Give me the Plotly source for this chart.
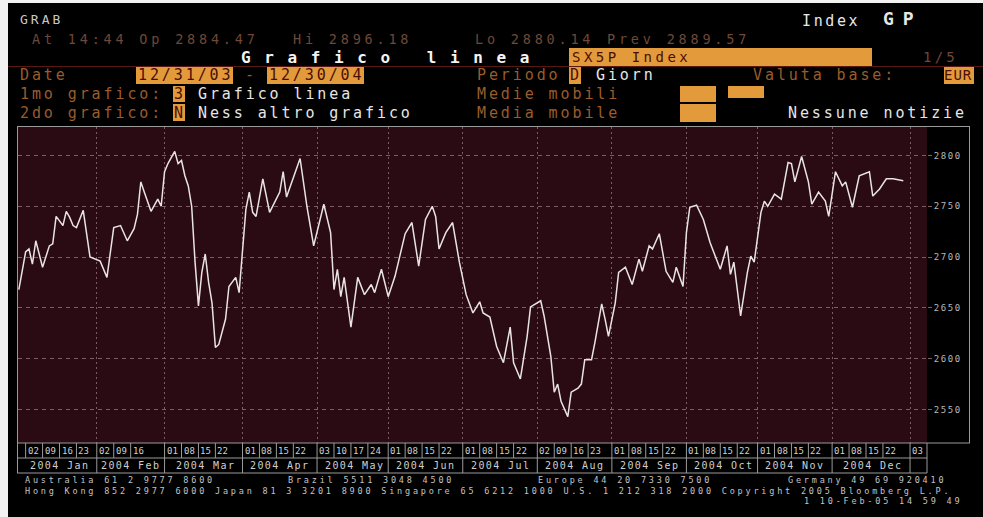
import plotly.graph_objects as go
import pandas as pd

# ---------------- data ----------------
dates = [
    "2003-12-31", "2004-01-02", "2004-01-05", "2004-01-06", "2004-01-07", "2004-01-09",
    "2004-01-13", "2004-01-14", "2004-01-15", "2004-01-19", "2004-01-20", "2004-01-21",
    "2004-01-22", "2004-01-23", "2004-01-27", "2004-01-29",
    "2004-02-03", "2004-02-05", "2004-02-09", "2004-02-11", "2004-02-13", "2004-02-17",
    "2004-02-18", "2004-02-19", "2004-02-20", "2004-02-24", "2004-02-26", "2004-02-27",
    "2004-03-01", "2004-03-02", "2004-03-04", "2004-03-05", "2004-03-08", "2004-03-09",
    "2004-03-10", "2004-03-11", "2004-03-12", "2004-03-15", "2004-03-16", "2004-03-17",
    "2004-03-18", "2004-03-19", "2004-03-22", "2004-03-23", "2004-03-25", "2004-03-26",
    "2004-03-30", "2004-03-31",
    "2004-04-02", "2004-04-05", "2004-04-06", "2004-04-07", "2004-04-09", "2004-04-13",
    "2004-04-16", "2004-04-19", "2004-04-20", "2004-04-26", "2004-04-28", "2004-04-30",
    "2004-05-05", "2004-05-07", "2004-05-10", "2004-05-11", "2004-05-12", "2004-05-13",
    "2004-05-17", "2004-05-19", "2004-05-21", "2004-05-25", "2004-05-26", "2004-05-28",
    "2004-06-01", "2004-06-03", "2004-06-08", "2004-06-10", "2004-06-14", "2004-06-16",
    "2004-06-18", "2004-06-21", "2004-06-22", "2004-06-24", "2004-06-28", "2004-06-30",
    "2004-07-02", "2004-07-06", "2004-07-08", "2004-07-09", "2004-07-13", "2004-07-15",
    "2004-07-19", "2004-07-21", "2004-07-22", "2004-07-26", "2004-07-28", "2004-07-29",
    "2004-08-03", "2004-08-04", "2004-08-06", "2004-08-09", "2004-08-10", "2004-08-11",
    "2004-08-13", "2004-08-16", "2004-08-18", "2004-08-19", "2004-08-20", "2004-08-24",
    "2004-08-25", "2004-08-27", "2004-08-30", "2004-08-31",
    "2004-09-02", "2004-09-03", "2004-09-07", "2004-09-09", "2004-09-13", "2004-09-14",
    "2004-09-16", "2004-09-17", "2004-09-21", "2004-09-23", "2004-09-27", "2004-09-28",
    "2004-09-30",
    "2004-10-01", "2004-10-04", "2004-10-06", "2004-10-08", "2004-10-12", "2004-10-15",
    "2004-10-19", "2004-10-20", "2004-10-21", "2004-10-25", "2004-10-27", "2004-10-28",
    "2004-10-29",
    "2004-11-02", "2004-11-03", "2004-11-04", "2004-11-08", "2004-11-10", "2004-11-12",
    "2004-11-15", "2004-11-16", "2004-11-18", "2004-11-22", "2004-11-23", "2004-11-25",
    "2004-11-29", "2004-11-30",
    "2004-12-02", "2004-12-06", "2004-12-07", "2004-12-09", "2004-12-13", "2004-12-16",
    "2004-12-17", "2004-12-21", "2004-12-23", "2004-12-27", "2004-12-30",
]
values = [
    2668, 2705, 2708, 2693, 2716, 2690,
    2711, 2713, 2740, 2731, 2745, 2739,
    2731, 2729, 2746, 2700,
    2696, 2680, 2729, 2731, 2716, 2728,
    2742, 2774, 2764, 2745, 2757, 2750,
    2784, 2792, 2804, 2792, 2795, 2780,
    2770, 2750, 2695, 2652, 2685, 2703,
    2675, 2655, 2611, 2614, 2639, 2671,
    2680, 2665,
    2747, 2764, 2744, 2740, 2777, 2744,
    2764, 2784, 2759, 2797, 2750, 2711,
    2752, 2724, 2668, 2688, 2661, 2680,
    2631, 2680, 2663, 2673, 2665, 2688,
    2661, 2681, 2723, 2734, 2691, 2737,
    2750, 2740, 2708, 2724, 2734, 2695,
    2663, 2645, 2656, 2645, 2641, 2612,
    2596, 2631, 2596, 2580, 2622, 2651,
    2657, 2642, 2602, 2567, 2575, 2558,
    2543, 2567, 2571, 2575, 2599, 2599,
    2616, 2654, 2639, 2622,
    2655, 2685, 2690, 2673, 2698, 2686,
    2711, 2708, 2723, 2686, 2675, 2690,
    2671,
    2724, 2749, 2751, 2737, 2714, 2688,
    2711, 2683, 2695, 2642, 2685, 2701,
    2695,
    2744, 2755, 2750, 2762, 2757, 2793,
    2792, 2774, 2799, 2774, 2752, 2764,
    2755, 2740,
    2784, 2770, 2774, 2749, 2780, 2784,
    2760, 2767, 2777, 2777, 2775,
]

day_ticks = [
    "2004-01-02", "2004-01-09", "2004-01-16", "2004-01-23",
    "2004-02-02", "2004-02-09", "2004-02-16",
    "2004-03-01", "2004-03-08", "2004-03-15", "2004-03-22",
    "2004-04-01", "2004-04-08", "2004-04-15", "2004-04-22",
    "2004-05-03", "2004-05-10", "2004-05-17", "2004-05-24",
    "2004-06-01", "2004-06-08", "2004-06-15", "2004-06-22",
    "2004-07-01", "2004-07-08", "2004-07-15", "2004-07-22",
    "2004-08-02", "2004-08-09", "2004-08-16", "2004-08-23",
    "2004-09-01", "2004-09-08", "2004-09-15", "2004-09-22",
    "2004-10-01", "2004-10-08", "2004-10-15", "2004-10-22",
    "2004-11-01", "2004-11-08", "2004-11-15", "2004-11-22",
    "2004-12-01", "2004-12-08", "2004-12-15", "2004-12-22",
    "2005-01-03",
]
month_starts = [
    "2004-02-02", "2004-03-01", "2004-04-01", "2004-05-03", "2004-06-01", "2004-07-01",
    "2004-08-02", "2004-09-01", "2004-10-01", "2004-11-01", "2004-12-01", "2005-01-03",
]
month_labels = ["2004 Jan", "2004 Feb", "2004 Mar", "2004 Apr", "2004 May", "2004 Jun",
                "2004 Jul", "2004 Aug", "2004 Sep", "2004 Oct", "2004 Nov", "2004 Dec"]
y_ticks = [2550, 2600, 2650, 2700, 2750, 2800]

X_START, X_END = "2003-12-30 18:00", "2005-01-10"
Y_MIN, Y_MAX = 2517, 2828

# ---------------- layout helpers ----------------
W, H = 983, 517
MONO = "DejaVu Sans Mono"
WHITE = "#e6e6e6"
DIM = "#9a5c2c"
DIM2 = "#6e4838"
ORANGE = "#e39a3b"
DARK = "#4a0e05"
GRID = "#7d5c62"

RS, RSP = 15, 2.9  # header row font size / letter spacing (~11.9 px per char)


def px(x):
    return x / W


def py(y):
    return 1 - y / H


annotations = []
shapes = []


def ann(text, x, y, color=WHITE, size=RS, spacing=RSP, bold=False, anchor="left", family=MONO):
    t = text
    if bold:
        t = "<b>" + t + "</b>"
    if spacing:
        t = '<span style="letter-spacing:%spx">%s</span>' % (spacing, t)
    annotations.append(dict(text=t, x=px(x), y=py(y), xref="paper", yref="paper",
                            xanchor=anchor, yanchor="middle", showarrow=False,
                            borderpad=0,
                            font=dict(family=family, size=size, color=color)))


def rect(x0, y0, x1, y1, fill=ORANGE):
    shapes.append(dict(type="rect", xref="paper", yref="paper",
                       x0=px(x0), x1=px(x1), y0=py(y1), y1=py(y0),
                       fillcolor=fill, line=dict(width=0)))


def hline(x0, x1, y, color="#8c8c8c", w=1):
    shapes.append(dict(type="line", xref="paper", yref="paper", x0=px(x0), x1=px(x1),
                       y0=py(y), y1=py(y), line=dict(color=color, width=w)))


def vline_px(x, y0, y1, color="#8c8c8c", w=1):
    shapes.append(dict(type="line", xref="paper", yref="paper", x0=px(x), x1=px(x),
                       y0=py(y0), y1=py(y1), line=dict(color=color, width=w)))


# page edge (scanned white margin)
shapes.append(dict(type="rect", xref="paper", yref="paper", x0=0, x1=px(8), y0=0, y1=1,
                   fillcolor="#f2f2f2", line=dict(width=0), layer="below"))
shapes.append(dict(type="rect", xref="paper", yref="paper", x0=0, x1=1, y0=py(3), y1=1,
                   fillcolor="#f2f2f2", line=dict(width=0), layer="below"))

# ---------------- header ----------------
ann("GRAB", 19, 19, color="#c8c8c8", size=13, spacing=3.0)
ann("Index", 801, 21, color=WHITE, size=15, spacing=2.6)
ann("GP", 882, 18, color=WHITE, size=18, spacing=9, bold=True)

R2 = dict(color=DIM2, size=13.5, spacing=3.8)
ann("At 14:44 Op 2884.47", 31, 39.5, **R2)
ann("Hi 2896.18", 292, 39.5, **R2)
ann("Lo 2880.14", 474, 39.5, **R2)
ann("Prev 2889.57", 606, 39.5, **R2)

ann("Grafico linea", 240, 57, color="#f4f4f4", size=16, spacing=13.6, bold=True)
rect(569, 48, 872, 66)
ann("SX5P Index", 571, 57, color=DARK, size=14, spacing=3.5)
ann("1/5", 922, 57, color=DIM2, size=14, spacing=3.2)
hline(8, 983, 66.5, color="#5a1812", w=1)

# row 4
ann("Date", 19, 75.5, color=DIM)
rect(136, 67, 233, 84)
ann("12/31/03", 137, 75.5, color=DARK)
ann("-", 244, 75.5, color=DIM)
rect(267, 67, 364, 84)
ann("12/30/04", 268, 75.5, color=DARK)
ann("Periodo", 476, 75.5, color=DIM)
rect(569, 67, 581, 84)
ann("D", 569, 75.5, color=DARK)
ann("Giorn", 595, 75.5, color=WHITE)
ann("Valuta base:", 752, 75.5, color=DIM)
rect(944, 67, 974, 84)
ann("EUR", 943, 75.5, color=DARK, size=14, spacing=1.0)

# row 5
ann("1mo grafico:", 19, 94, color=DIM)
rect(173, 86, 185, 102)
ann("3", 173, 94, color=DARK)
ann("Grafico linea", 197, 94, color=WHITE)
ann("Medie mobili", 476, 94, color=DIM)
rect(680, 86, 716, 102)
rect(728, 86, 764, 98)

# row 6
ann("2do grafico:", 19, 112.5, color=DIM)
rect(173, 104, 185, 121)
ann("N", 173, 112.5, color=DARK)
ann("Ness altro grafico", 197, 112.5, color=WHITE)
ann("Media mobile", 476, 112.5, color=DIM)
rect(680, 104, 716, 122)
ann("Nessune notizie", 787, 112.5, color=WHITE)

# ---------------- footer ----------------
FOOT = "#c4c4c4"
FS, FSP = 8.5, 2.8
ann("Australia 61 2 9777 8600", 24, 480, color=FOOT, size=FS, spacing=FSP)
ann("Brazil 5511 3048 4500", 287, 480, color=FOOT, size=FS, spacing=FSP)
ann("Europe 44 20 7330 7500", 537, 480, color=FOOT, size=FS, spacing=FSP)
ann("Germany 49 69 920410", 787, 480, color=FOOT, size=FS, spacing=FSP)
ann("Hong Kong 852 2977 6000 Japan 81 3 3201 8900 Singapore 65 6212 1000 U.S. 1 212 318 2000 "
    "Copyright 2005 Bloomberg L.P.", 24, 490.5, color=FOOT, size=FS, spacing=FSP)
ann("1 10-Feb-05 14 59 49", 803, 501, color=FOOT, size=FS, spacing=FSP)

# ---------------- chart frame / x table ----------------
PLOT_L, PLOT_R, PLOT_T, PLOT_B = 18, 927, 127, 443
ROW1_B, ROW2_B = 458, 473
FRAME = "#9a9a9a"
hline(17, 970, 126.5, color=FRAME)
vline_px(17.5, 126, ROW2_B, color=FRAME)
vline_px(969.5, 126, PLOT_B, color=FRAME)
hline(17, 970, PLOT_B, color=FRAME)
hline(17, PLOT_R, ROW1_B, color=FRAME)
hline(17, PLOT_R, ROW2_B, color=FRAME)
vline_px(PLOT_R, PLOT_B, ROW2_B, color=FRAME)

# day cells
for d in day_ticks:
    shapes.append(dict(type="line", xref="x", yref="paper", x0=d, x1=d,
                       y0=py(ROW1_B), y1=py(PLOT_B), line=dict(color=FRAME, width=1)))
    annotations.append(dict(text="%02d" % pd.Timestamp(d).day, x=d, y=py((PLOT_B + ROW1_B) / 2),
                            xref="x", yref="paper", xanchor="left", yanchor="middle",
                            xshift=1, showarrow=False, borderpad=0,
                            font=dict(family=MONO, size=9, color="#cfcfcf")))
# month cells
bounds = [pd.Timestamp("2003-12-31")] + [pd.Timestamp(m) for m in month_starts]
for ms in month_starts:
    shapes.append(dict(type="line", xref="x", yref="paper", x0=ms, x1=ms,
                       y0=py(ROW2_B), y1=py(ROW1_B), line=dict(color=FRAME, width=1)))
for i, lab in enumerate(month_labels):
    bd = pd.bdate_range(bounds[i], bounds[i + 1])
    mid = bd[len(bd) // 2]
    annotations.append(dict(text='<span style="letter-spacing:1.4px">%s</span>' % lab,
                            x=mid.strftime("%Y-%m-%d"), y=py((ROW1_B + ROW2_B) / 2),
                            xref="x", yref="paper", xanchor="center", yanchor="middle",
                            showarrow=False, borderpad=0,
                            font=dict(family=MONO, size=10, color="#cfcfcf")))

# ---------------- figure ----------------
fig = go.Figure()
fig.add_trace(go.Scatter(x=dates, y=values, mode="lines",
                         line=dict(color="#e8e4e6", width=1.5), hoverinfo="skip"))

fig.update_layout(
    width=W, height=H, margin=dict(l=0, r=0, t=0, b=0),
    paper_bgcolor="#000000", plot_bgcolor="#2a0b13",
    showlegend=False,
    shapes=shapes, annotations=annotations,
    xaxis=dict(domain=[px(PLOT_L), px(PLOT_R)], type="date",
               range=[X_START, X_END],
               rangebreaks=[dict(bounds=["sat", "mon"])],
               tickvals=month_starts, showticklabels=False, ticks="",
               showgrid=True, gridcolor=GRID, griddash="2px,3px", gridwidth=1,
               zeroline=False, showline=False),
    yaxis=dict(domain=[py(PLOT_B), py(PLOT_T)], range=[Y_MIN, Y_MAX], side="right",
               tickvals=y_ticks,
               ticktext=['<span style="letter-spacing:1.6px">%d</span>' % v for v in y_ticks],
               tickfont=dict(family=MONO, size=9, color="#b8b8b8"),
               ticks="outside", ticklen=4, tickcolor=GRID,
               showgrid=True, gridcolor=GRID, griddash="4px,4px", gridwidth=1,
               zeroline=False, showline=False),
)

fig.write_html("out.html", config={"displayModeBar": False},
               post_script="document.body.style.margin='0';")
